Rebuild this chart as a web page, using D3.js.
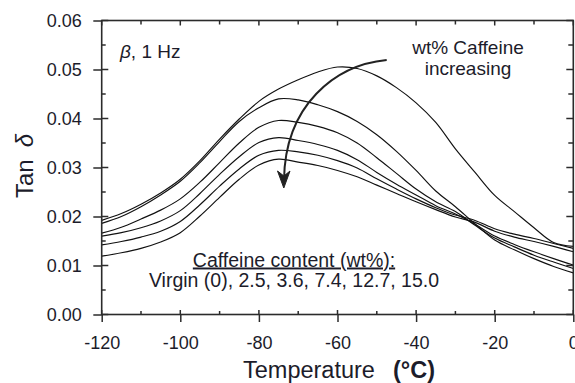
<!DOCTYPE html>
<html>
<head>
<meta charset="utf-8">
<script src="https://cdn.jsdelivr.net/npm/d3@7/dist/d3.min.js"></script>
<style>
  html, body { margin: 0; padding: 0; background: #fff; }
  svg { display: block; font-family: "Liberation Sans", Arial, sans-serif; }
</style>
</head>
<body>
<svg id="chart" width="575" height="383"></svg>
<script>
// Temperature grid (°C)
const temps = [-120,-115,-110,-105,-100,-95,-90,-85,-80,-75,-70,-65,-60,-55,-50,-45,-40,-35,-30,-25,-20,-15,-10,-5,0];

// Tan delta per caffeine content (wt%)
const virgin = [.0192,.0206,.0225,.0248,.0276,.0314,.0358,.0399,.0435,.0460,.0479,.0495,.0505,.0502,.0487,.0463,.0432,.0392,.0338,.0290,.0243,.0210,.0177,.0147,.0139];
const caf25  = [.0186,.0200,.0220,.0244,.0272,.0310,.0353,.0394,.0422,.0440,.0438,.0428,.0414,.0394,.0367,.0333,.0294,.0252,.0220,.0185,.0152,.0132,.0114,.0098,.0085];
const caf36  = [.0166,.0178,.0195,.0213,.0236,.0270,.0310,.0350,.0382,.0396,.0392,.0384,.0371,.0350,.0320,.0288,.0256,.0230,.0210,.0182,.0156,.0138,.0121,.0107,.0094];
const caf74  = [.0160,.0167,.0177,.0191,.0212,.0247,.0286,.0322,.0351,.0361,.0355,.0347,.0335,.0316,.0290,.0266,.0244,.0222,.0205,.0184,.0160,.0143,.0128,.0114,.0101];
const caf127 = [.0142,.0149,.0158,.0170,.0190,.0224,.0262,.0297,.0325,.0335,.0332,.0325,.0314,.0299,.0277,.0256,.0236,.0218,.0203,.0192,.0175,.0164,.0155,.0145,.0135];
const caf150 = [.0119,.0126,.0135,.0148,.0167,.0201,.0239,.0276,.0305,.0317,.0311,.0304,.0294,.0281,.0264,.0247,.0230,.0214,.0199,.0188,.0170,.0158,.0149,.0139,.0128];

const seriesList = [virgin, caf25, caf36, caf74, caf127, caf150];

// Axis ticks
const xMajor = [-120,-100,-80,-60,-40,-20,0];
const xMinor = [-110,-90,-70,-50,-30,-10];
const yMajor = [0,0.01,0.02,0.03,0.04,0.05,0.06];
const yMinor = [0.005,0.015,0.025,0.035,0.045,0.055];

const svg = d3.select("#chart");
const L = 101.7, R = 573.3, T = 20.5, B = 314.5;
const ink = "#2b2b2b";
const textCol = "#1c1c2a";

const x = d3.scaleLinear().domain([-120, 0]).range([L, R]);
const y = d3.scaleLinear().domain([0, 0.06]).range([B, T]);

// Curves
const line = d3.line()
  .x((d, i) => x(temps[i]))
  .y(d => y(d))
  .curve(d3.curveCatmullRom.alpha(0.5));

svg.append("g").selectAll("path").data(seriesList).join("path")
  .attr("d", line)
  .attr("fill", "none")
  .attr("stroke", "#111")
  .attr("stroke-width", 1.15);

// Bottom axis with labels (outer part of major ticks)
const gx = svg.append("g").attr("transform", `translate(0,${B})`)
  .call(d3.axisBottom(x).tickValues(xMajor).tickFormat(d => String(d))
    .tickSizeInner(7.5).tickSizeOuter(0).tickPadding(14));
gx.select(".domain").remove();
gx.selectAll(".tick line").attr("stroke", ink).attr("stroke-width", 1.5);
gx.selectAll("text").attr("font-size", 18).attr("fill", textCol)
  .attr("font-family", "Liberation Sans, Arial, sans-serif");

// Left axis with labels
const gy = svg.append("g").attr("transform", `translate(${L},0)`)
  .call(d3.axisLeft(y).tickValues(yMajor).tickFormat(d3.format(".2f"))
    .tickSizeInner(8.4).tickSizeOuter(0).tickPadding(11.6));
gy.select(".domain").remove();
gy.selectAll(".tick line").attr("stroke", ink).attr("stroke-width", 1.5);
gy.selectAll("text").attr("font-size", 18).attr("fill", textCol)
  .attr("font-family", "Liberation Sans, Arial, sans-serif");

// Inward tick marks on all four sides
const ticks = svg.append("g").attr("stroke", ink).attr("stroke-width", 1.5);
xMajor.forEach(v => {
  ticks.append("line").attr("x1", x(v)).attr("x2", x(v)).attr("y1", B).attr("y2", B - 4.5);
  ticks.append("line").attr("x1", x(v)).attr("x2", x(v)).attr("y1", T).attr("y2", T + 5);
});
xMinor.forEach(v => {
  ticks.append("line").attr("x1", x(v)).attr("x2", x(v)).attr("y1", B).attr("y2", B - 3.5);
  ticks.append("line").attr("x1", x(v)).attr("x2", x(v)).attr("y1", T).attr("y2", T + 4);
});
yMajor.forEach(v => {
  ticks.append("line").attr("x1", L).attr("x2", L + 6.6).attr("y1", y(v)).attr("y2", y(v));
  ticks.append("line").attr("x1", R).attr("x2", R - 7).attr("y1", y(v)).attr("y2", y(v));
});
yMinor.forEach(v => {
  ticks.append("line").attr("x1", L).attr("x2", L + 4).attr("y1", y(v)).attr("y2", y(v));
  ticks.append("line").attr("x1", R).attr("x2", R - 5).attr("y1", y(v)).attr("y2", y(v));
});

// Frame
svg.append("rect")
  .attr("x", L).attr("y", T).attr("width", R - L).attr("height", B - T)
  .attr("fill", "none").attr("stroke", ink).attr("stroke-width", 1.6);

// Axis titles
const yt = svg.append("text")
  .attr("transform", `translate(33,198) rotate(-90)`)
  .attr("text-anchor", "start")
  .attr("font-size", 24).attr("fill", textCol);
yt.append("tspan").text("Tan");
yt.append("tspan").attr("dx", 12).attr("font-style", "italic").text("δ");

const xt = svg.append("text")
  .attr("x", 243).attr("y", 378)
  .attr("font-size", 23.5).attr("fill", textCol);
xt.append("tspan").text("Temperature");
xt.append("tspan").attr("x", 393).attr("font-weight", "bold").text("(°C)");

// Annotations
const beta = svg.append("text")
  .attr("x", 120).attr("y", 58)
  .attr("font-size", 19).attr("fill", textCol);
beta.append("tspan").attr("font-style", "italic").text("β");
beta.append("tspan").text(", 1 Hz");

svg.append("text").attr("x", 468).attr("y", 54).attr("text-anchor", "middle")
  .attr("font-size", 19).attr("fill", textCol).text("wt% Caffeine");
svg.append("text").attr("x", 468).attr("y", 75).attr("text-anchor", "middle")
  .attr("font-size", 19).attr("fill", textCol).text("increasing");

svg.append("text").attr("x", 294).attr("y", 266.5).attr("text-anchor", "middle")
  .attr("font-size", 19.5).attr("fill", textCol)
  .attr("text-decoration", "underline")
  .text("Caffeine content (wt%):");
svg.append("text").attr("x", 294).attr("y", 286.5).attr("text-anchor", "middle")
  .attr("font-size", 19.5).attr("fill", textCol)
  .text("Virgin (0), 2.5, 3.6, 7.4, 12.7, 15.0");

// Curved arrow
svg.append("path")
  .attr("d", "M386.7,60 C335,65 285,105 284,180")
  .attr("fill", "none").attr("stroke", "#222").attr("stroke-width", 2);
svg.append("path")
  .attr("d", "M283.8,188 L277.5,171 L283.9,176 L290,171 Z")
  .attr("fill", "#222").attr("stroke", "#222").attr("stroke-width", 1);
</script>
</body>
</html>
